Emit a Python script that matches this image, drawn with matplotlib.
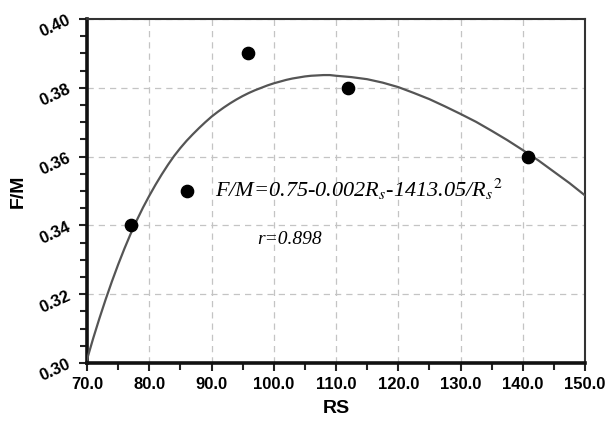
import matplotlib
matplotlib.use("Agg")
import matplotlib.pyplot as plt
from matplotlib.ticker import MultipleLocator

# measured samples
rs = [77.0, 86.0, 95.8, 111.9, 140.8]
fm = [0.340, 0.350, 0.390, 0.380, 0.360]

# fitted curve
curve_x = [70, 71, 72, 73, 74, 75, 76, 77, 78, 79, 80, 81, 82, 83, 84, 85, 86, 87, 88,
           89, 90, 91, 92, 93, 94, 95, 96, 97, 98, 99, 100, 101, 102, 103, 104, 105,
           106, 107, 108, 109, 110, 112.5, 115, 117.5, 120, 122.5, 125, 127.5, 130,
           132.5, 135, 137.5, 140, 142.5, 145, 147.5, 150]
curve_y = [0.3010, 0.3072, 0.3130, 0.3185, 0.3237, 0.3286, 0.3332, 0.3375, 0.3415,
           0.3452, 0.3486, 0.3518, 0.3548, 0.3576, 0.3602, 0.3625, 0.3646, 0.3665,
           0.3683, 0.3700, 0.3716, 0.3730, 0.3743, 0.3755, 0.3766, 0.3776, 0.3785,
           0.3793, 0.3800, 0.3807, 0.3813, 0.3818, 0.3823, 0.3827, 0.3830, 0.3833,
           0.3835, 0.3836, 0.3837, 0.3837, 0.3835, 0.3831, 0.3825, 0.3815, 0.3802,
           0.3785, 0.3767, 0.3746, 0.3724, 0.3701, 0.3675, 0.3648, 0.3619, 0.3589,
           0.3556, 0.3523, 0.3487]

xticks = [70, 80, 90, 100, 110, 120, 130, 140, 150]
yticks = [0.30, 0.32, 0.34, 0.36, 0.38, 0.40]

plt.rcParams["mathtext.fontset"] = "stix"

fig = plt.figure(figsize=(6.05, 4.26), dpi=100)
ax = fig.add_axes([0.1438, 0.1479, 0.8232, 0.8075])

ax.plot(curve_x, curve_y, color="#555555", lw=1.6, zorder=3)
ax.scatter(rs, fm, s=78, color="black", zorder=4)

ax.set_xlim(70, 150)
ax.set_ylim(0.30, 0.40)
ax.set_xticks(xticks)
ax.set_yticks(yticks)
ax.set_xticklabels([f"{v:.1f}" for v in xticks])
ax.set_yticklabels([f"{v:.2f}" for v in yticks], rotation=25)
ax.xaxis.set_minor_locator(MultipleLocator(5))
ax.yaxis.set_minor_locator(MultipleLocator(0.005))

for lab in ax.get_xticklabels() + ax.get_yticklabels():
    lab.set_fontfamily("Liberation Sans")
    lab.set_fontweight("bold")
    lab.set_fontsize(12)

ax.tick_params(which="both", direction="out", width=1.5, color="#222222")
ax.tick_params(which="major", length=6, pad=4)
ax.tick_params(which="minor", length=5)
ax.tick_params(top=False, right=False)

ax.grid(True, which="major", ls=(0, (5, 4)), color="#c4c4c4", lw=0.9)

for side in ["bottom", "left"]:
    ax.spines[side].set_linewidth(2.6)
    ax.spines[side].set_color("#111111")
for side in ["top", "right"]:
    ax.spines[side].set_linewidth(1.5)
    ax.spines[side].set_color("#333333")

ax.set_xlabel("RS", fontfamily="Liberation Sans", fontweight="bold", fontsize=14, labelpad=6)
ax.set_ylabel("F/M", fontfamily="Liberation Sans", fontweight="bold", fontsize=14, labelpad=8)

ax.text(90.6, 0.3505, "F/M=0.75-0.002R$_s$-1413.05/R$_s$$^2$", fontfamily="Liberation Serif",
        style="italic", fontsize=16, va="center", ha="left")
ax.text(97.3, 0.3358, "r=0.898", fontfamily="Liberation Serif", style="italic",
        fontsize=14, va="center", ha="left")

plt.savefig("out.png")
